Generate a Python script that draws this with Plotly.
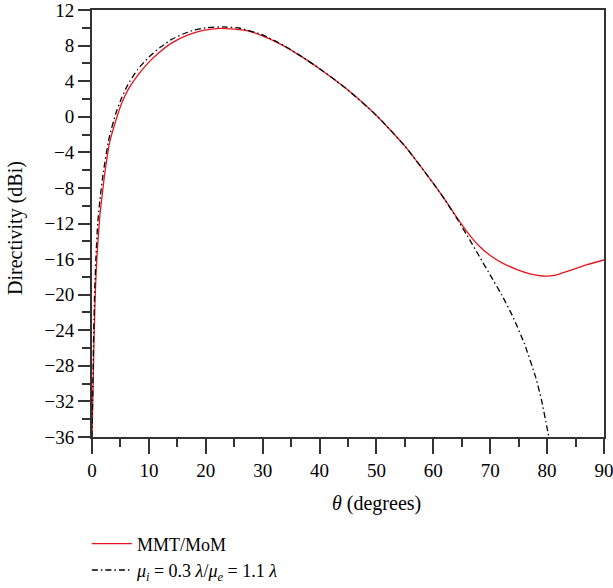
import plotly.graph_objects as go

# MMT/MoM (red)
red_theta = [0, 0.2, 0.4, 0.6, 0.85, 1.1, 1.4, 1.7, 2.2, 3.1, 4.3, 5.2, 6.3, 8.1, 9.8,
             11.6, 13.9, 16.9, 19.5, 22.5, 25, 27.2, 30, 33.6, 37, 40, 43, 45, 50,
             55, 60, 62, 64, 66, 68, 70, 72, 74.6, 77, 79.3, 81.5, 83.4, 86.9, 90]
red_dir = [-36, -30, -24, -19.5, -16, -13.5, -11, -9.3, -6.6, -2.9, -0.2, 1.5, 3.0, 4.7, 6.0,
           7.1, 8.25, 9.2, 9.7, 9.94, 9.85, 9.68, 9.1, 8.0, 6.7, 5.4, 4.0, 3.0, 0.15,
           -3.3, -7.5, -9.3, -11.2, -13.0, -14.5, -15.6, -16.4, -17.15, -17.65, -17.9, -17.8, -17.4,
           -16.65, -16.1]

# mu_i = 0.3 lambda / mu_e = 1.1 lambda (black dash-dot)
blk_theta = [0, 0.15, 0.3, 0.5, 0.75, 1.0, 1.4, 2.0, 3.0, 4.2, 5.2, 6.3, 8, 10, 12, 14, 16,
             18, 20, 23, 26, 30, 33.6, 37, 40, 43, 45, 50, 55, 60, 62,
             64, 66, 68, 70, 72, 74, 76, 78, 79, 80, 80.3]
blk_dir = [-36, -30, -24, -19, -15, -12, -9.3, -6.2, -2.4, 0.4, 2.1, 3.6, 5.3, 6.7, 7.8, 8.7, 9.3,
           9.75, 10.0, 10.1, 9.95, 9.2, 8.05, 6.7, 5.4, 4.0, 3.0, 0.15, -3.3, -7.5, -9.3,
           -11.3, -13.4, -15.6, -17.8, -20.0, -22.5, -25.5, -29.3, -31.8, -35.0, -36]

x_ticks = [0, 10, 20, 30, 40, 50, 60, 70, 80, 90]
y_ticks = [-36, -32, -28, -24, -20, -16, -12, -8, -4, 0, 4, 8, 12]

FONT = "Liberation Serif"

fig = go.Figure()
fig.add_trace(go.Scatter(x=red_theta, y=red_dir, mode="lines", name="MMT/MoM",
                         line=dict(color="#e8141c", width=1.3, shape="spline", smoothing=0.5)))
fig.add_trace(go.Scatter(x=blk_theta, y=blk_dir, mode="lines",
                         name="<i>μ<sub>i</sub></i> = 0.3 <i>λ</i>/<i>μ<sub>e</sub></i> = 1.1 <i>λ</i>",
                         line=dict(color="black", width=1.3, dash="6px,3px,1.5px,3px",
                                   shape="spline", smoothing=0.5)))

axis_common = dict(showline=True, linecolor="#333333", linewidth=2, mirror=True,
                   showgrid=False, zeroline=False, ticks="outside", tickcolor="#333333",
                   tickwidth=2, automargin=False, ticklabeloverflow="allow",
                   tickfont=dict(family=FONT, size=19, color="black"))

fig.update_xaxes(range=[0, 90], tickvals=x_ticks, ticklen=15,
                 minor=dict(dtick=5, tick0=0, ticklen=8, ticks="outside", tickcolor="#333333", tickwidth=2),
                 **axis_common)
fig.update_yaxes(range=[-36, 12], tickvals=y_ticks, ticktext=[str(v).replace("-", "−") for v in y_ticks],
                 ticklen=12,
                 minor=dict(dtick=2, tick0=0, ticklen=8, ticks="outside", tickcolor="#333333", tickwidth=2),
                 **axis_common)

fig.add_annotation(text="<i>θ</i> (degrees)", xref="paper", yref="paper",
                   x=0.555, y=-0.155, xanchor="center", yanchor="middle", showarrow=False,
                   font=dict(family=FONT, size=20, color="black"))
fig.add_annotation(text="Directivity (dBi)", xref="paper", yref="paper",
                   x=-0.148, y=0.49, xanchor="center", yanchor="middle", showarrow=False,
                   textangle=-90, font=dict(family=FONT, size=20, color="black"))

fig.update_layout(
    width=613, height=588,
    margin=dict(l=92, r=9, t=10, b=151, autoexpand=False),
    plot_bgcolor="white", paper_bgcolor="white",
    showlegend=True,
    legend=dict(x=-0.01, xanchor="left", y=-0.207, yanchor="top",
                font=dict(family=FONT, size=18, color="black"),
                bgcolor="rgba(0,0,0,0)", tracegroupgap=0, itemwidth=40),
)

fig.write_html("out.html")
